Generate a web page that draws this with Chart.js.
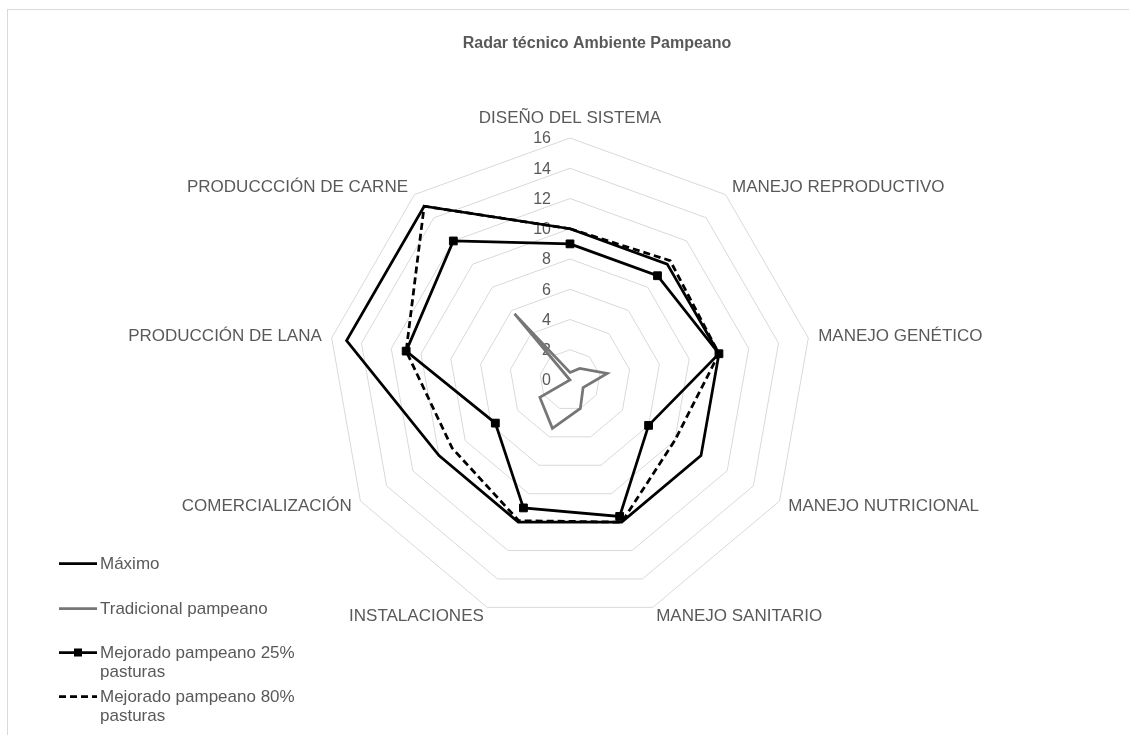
<!DOCTYPE html>
<html lang="es">
<head>
    <meta charset="UTF-8">
    <title>Radar técnico Ambiente Pampeano</title>
    <script src="https://cdn.jsdelivr.net/npm/chart.js"></script>
    <style>
        body {
            margin: 0;
            background: #ffffff;
            font-family: 'Liberation Sans', Arial, sans-serif;
            overflow: hidden;
        }
        .wrap {
            position: relative;
            width: 1129px;
            height: 735px;
        }
        .frame {
            position: absolute;
            left: 7px;
            top: 9px;
            width: 1140px;
            height: 760px;
            border: 1px solid #d9d9d9;
        }
        #radar {
            position: absolute;
            left: 0;
            top: 0;
        }
        .legend {
            position: absolute;
            left: 58px;
            top: 0;
            color: #595959;
            font-size: 17px;
            line-height: 19px;
        }
        .legend .item {
            position: absolute;
            left: 0;
            width: 260px;
        }
        .legend svg {
            position: absolute;
            left: 0;
            top: 0;
        }
        .legend span {
            position: absolute;
            left: 42px;
            top: 0;
            white-space: nowrap;
        }
    </style>
</head>
<body>
    <div class="wrap">
        <div class="frame"></div>
        <canvas id="radar" width="1129" height="735"></canvas>
        <div class="legend" id="legend"></div>
    </div>

    <script>
        // ejes del radar
        const categorias = ['DISEÑO DEL SISTEMA', 'MANEJO REPRODUCTIVO', 'MANEJO GENÉTICO', 'MANEJO NUTRICIONAL',
            'MANEJO SANITARIO', 'INSTALACIONES', 'COMERCIALIZACIÓN', 'PRODUCCIÓN DE LANA', 'PRODUCCCIÓN DE CARNE'];

        const maximo = [10, 10, 10, 10, 10, 10, 10, 15, 15];
        const tradicional = [0.5, 1, 2.5, 1, 2, 3.4, 2.3, 0, 5.7];
        const mejorado25 = [9, 9, 10, 6, 9.6, 9, 5.7, 11, 12];
        const mejorado80 = [10, 10.3, 10, 8, 10, 9.9, 9, 11, 15];

        const escalaMin = 0;
        const escalaMax = 16;
        const paso = 2;

        const gris = '#595959';
        const fuente = "'Liberation Sans', Arial, sans-serif";

        // etiquetas de ejes y valores estilo Excel
        const etiquetasExcel = {
            id: 'etiquetasExcel',
            beforeDatasetsDraw(chart) {
                const ctx = chart.ctx;
                const r = chart.scales.r;
                ctx.save();
                ctx.fillStyle = gris;

                // valores del eje
                ctx.font = '16px ' + fuente;
                ctx.textAlign = 'right';
                ctx.textBaseline = 'middle';
                r.ticks.forEach(t => {
                    const d = r.getDistanceFromCenterForValue(t.value);
                    ctx.fillText(t.label, r.xCenter - 19, r.yCenter - d + 1);
                });

                // nombres de categorías
                ctx.font = '17px ' + fuente;
                categorias.forEach((lab, i) => {
                    const p = r.getPointPosition(i, r.drawingArea + 10);
                    const ang = i * 360 / categorias.length;
                    let y = p.y;
                    if (ang === 0) {
                        ctx.textAlign = 'center';
                        y -= 10;
                    } else if (ang < 180) {
                        ctx.textAlign = 'left';
                    } else {
                        ctx.textAlign = 'right';
                    }
                    ctx.fillText(lab, p.x, y);
                });
                ctx.restore();
            }
        };

        new Chart(document.getElementById('radar').getContext('2d'), {
            type: 'radar',
            data: {
                labels: categorias,
                datasets: [{
                    label: 'Máximo',
                    data: maximo,
                    borderColor: '#000000',
                    borderWidth: 2.75,
                    pointRadius: 0,
                    order: 4
                }, {
                    label: 'Tradicional pampeano',
                    data: tradicional,
                    borderColor: '#767676',
                    borderWidth: 2.75,
                    pointRadius: 0,
                    order: 3
                }, {
                    label: 'Mejorado pampeano 25% pasturas',
                    data: mejorado25,
                    borderColor: '#000000',
                    borderWidth: 2.75,
                    pointStyle: 'rect',
                    pointRadius: 5.5,
                    pointBorderWidth: 1,
                    pointBackgroundColor: '#000000',
                    pointBorderColor: '#000000',
                    order: 2
                }, {
                    label: 'Mejorado pampeano 80% pasturas',
                    data: mejorado80,
                    borderColor: '#000000',
                    borderWidth: 2.75,
                    borderDash: [7, 4],
                    pointRadius: 0,
                    order: 1
                }]
            },
            options: {
                responsive: false,
                animation: false,
                devicePixelRatio: 1,
                layout: { padding: { left: 65 } },
                elements: {
                    line: { fill: false, tension: 0 }
                },
                datasets: {
                    radar: { clip: false }
                },
                plugins: {
                    legend: { display: false },
                    tooltip: { enabled: false },
                    title: {
                        display: true,
                        text: 'Radar técnico Ambiente Pampeano',
                        color: gris,
                        font: { family: fuente, size: 16, weight: 'bold' },
                        padding: { top: 34, bottom: 0 }
                    }
                },
                scales: {
                    r: {
                        min: escalaMin,
                        max: escalaMax,
                        ticks: { stepSize: paso, display: false },
                        grid: { color: '#d9d9d9', lineWidth: 1, circular: false },
                        angleLines: { display: false },
                        pointLabels: { display: false },
                        afterFit(scale) {
                            // misma geometría que el gráfico original
                            scale.xCenter = 570;
                            scale.yCenter = 380;
                            scale.drawingArea = 242;
                        }
                    }
                }
            },
            plugins: [etiquetasExcel]
        });

        // leyenda a la izquierda, como en Excel
        const leyenda = [
            { texto: 'Máximo', color: '#000000', dash: '', marca: false, y: 563 },
            { texto: 'Tradicional pampeano', color: '#767676', dash: '', marca: false, y: 608 },
            { texto: 'Mejorado pampeano 25%<br>pasturas', color: '#000000', dash: '', marca: true, y: 652 },
            { texto: 'Mejorado pampeano 80%<br>pasturas', color: '#000000', dash: '7 4', marca: false, y: 696 }
        ];
        const cont = document.getElementById('legend');
        leyenda.forEach(it => {
            const div = document.createElement('div');
            div.className = 'item';
            div.style.top = (it.y - 9.5) + 'px';
            let svg = '<svg width="40" height="19"><line x1="1" y1="9.5" x2="39" y2="9.5" stroke="' + it.color +
                '" stroke-width="2.75"' + (it.dash ? ' stroke-dasharray="' + it.dash + '"' : '') + '/>';
            if (it.marca) svg += '<rect x="16" y="5.5" width="8" height="8" fill="#000"/>';
            svg += '</svg>';
            div.innerHTML = svg + '<span>' + it.texto + '</span>';
            cont.appendChild(div);
        });
    </script>
</body>
</html>
